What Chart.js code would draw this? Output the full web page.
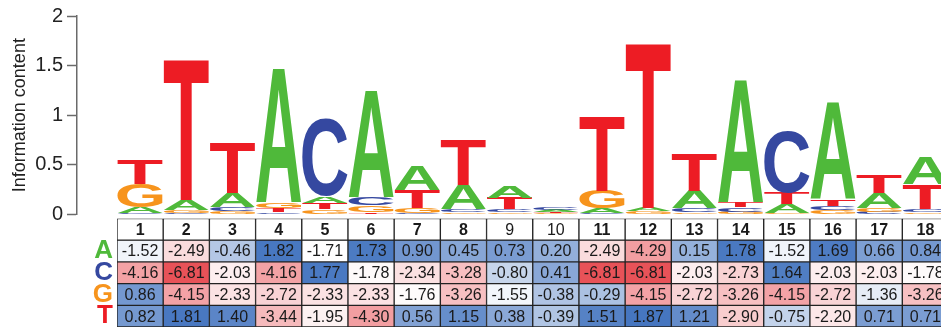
<!DOCTYPE html>
<html>
<head>
<meta charset="utf-8">
<script src="https://cdn.jsdelivr.net/npm/chart.js@4.4.0/dist/chart.umd.min.js"></script>
<style>
  body { margin: 0; background: #fff; }
  #wrap { position: relative; width: 941px; height: 327px; overflow: hidden; }
  #logo { position: absolute; left: 0; top: 0; }
  #table { position: absolute; left: 0; top: 195px; }
</style>
</head>
<body>
<div id="wrap">
  <canvas id="logo" width="960" height="232"></canvas>
  <canvas id="table" width="960" height="155"></canvas>
</div>
<script>
var positions = ['1', '2', '3', '4', '5', '6', '7', '8', '9', '10', '11', '12', '13', '14', '15', '16', '17', '18'];
var boldHeader = [true, true, true, true, true, true, true, true, false, false, true, true, true, true, true, true, true, true];
var bases = ['A', 'C', 'G', 'T'];

// letter heights in the logo (bits)
var heightA = [0.06, 0.10, 0.14, 1.36, 0.07, 1.08, 0.25, 0.25, 0.12, 0.02, 0.05, 0.035, 0.18, 1.24, 0.09, 0.98, 0.15, 0.27];
var heightC = [0.01, 0.01, 0.04, 0.02, 0.78, 0.075, 0.01, 0.03, 0.03, 0.025, 0.01, 0.005, 0.04, 0.045, 0.62, 0.045, 0.025, 0.03];
var heightG = [0.235, 0.03, 0.03, 0.05, 0.05, 0.07, 0.05, 0.02, 0.02, 0.012, 0.18, 0.025, 0.02, 0.025, 0.01, 0.04, 0.04, 0.02];
var heightT = [0.25, 1.415, 0.51, 0.04, 0.06, 0.02, 0.18, 0.455, 0.11, 0.015, 0.76, 1.66, 0.38, 0.05, 0.12, 0.065, 0.185, 0.25];

// scores shown in the table
var scoreA = [-1.52, -2.49, -0.46, 1.82, -1.71, 1.73, 0.90, 0.45, 0.73, 0.20, -2.49, -4.29, 0.15, 1.78, -1.52, 1.69, 0.66, 0.84];
var scoreC = [-4.16, -6.81, -2.03, -4.16, 1.77, -1.78, -2.34, -3.28, -0.80, 0.41, -6.81, -6.81, -2.03, -2.73, 1.64, -2.03, -2.03, -1.78];
var scoreG = [0.86, -4.15, -2.33, -2.72, -2.33, -2.33, -1.76, -3.26, -1.55, -0.38, -0.29, -4.15, -2.72, -3.26, -4.15, -2.72, -1.36, -3.26];
var scoreT = [0.82, 1.81, 1.40, -3.44, -1.95, -4.30, 0.56, 1.15, 0.38, -0.39, 1.51, 1.87, 1.21, -2.90, -0.75, -2.20, 0.71, 0.71];

var baseColors = { A: '#4fb93a', C: '#3548a0', G: '#f7941d', T: '#ed1c24' };
var fontFamily = '"Liberation Sans", Arial, sans-serif';

Chart.defaults.font.family = fontFamily;
Chart.defaults.color = '#222';

var letterHeights = { A: heightA, C: heightC, G: heightG, T: heightT };
var scoreRows = [scoreA, scoreC, scoreG, scoreT];

// stack letters per column, smallest at the bottom
var logoLayers = [[], [], [], []];
positions.forEach(function (p, i) {
  var col = bases.map(function (b) { return { letter: b, h: letterHeights[b][i] }; });
  col.sort(function (a, b) { return a.h - b.h; });
  col.forEach(function (c, k) {
    logoLayers[k].push({ x: i + 1, y: c.h, letter: c.letter });
  });
});

function drawGlyph(ctx, letter, x, y, w, h) {
  ctx.save();
  ctx.font = 'bold 200px ' + fontFamily;
  ctx.textAlign = 'left';
  ctx.textBaseline = 'alphabetic';
  var m = ctx.measureText(letter);
  var gw = m.actualBoundingBoxLeft + m.actualBoundingBoxRight;
  var gh = m.actualBoundingBoxAscent + m.actualBoundingBoxDescent;
  ctx.translate(x, y);
  ctx.scale(w / gw, h / gh);
  ctx.fillStyle = baseColors[letter];
  ctx.fillText(letter, m.actualBoundingBoxLeft, m.actualBoundingBoxAscent);
  ctx.restore();
}

var letterPlugin = {
  id: 'letters',
  afterDatasetsDraw: function (chart) {
    var ctx = chart.ctx;
    chart.data.datasets.forEach(function (ds, d) {
      chart.getDatasetMeta(d).data.forEach(function (bar, i) {
        var p = bar.getProps(['x', 'y', 'base', 'width'], true);
        var top = Math.min(p.y, p.base);
        var h = Math.abs(p.base - p.y);
        if (h < 0.3) return;
        drawGlyph(ctx, ds.data[i].letter, p.x - p.width / 2 + 0.5, top, p.width - 1, h);
      });
    });
  }
};

new Chart(document.getElementById('logo'), {
  type: 'bar',
  data: {
    datasets: logoLayers.map(function (layer) {
      return {
        data: layer,
        backgroundColor: 'rgba(0,0,0,0)',
        borderWidth: 0,
        barPercentage: 1,
        categoryPercentage: 1
      };
    })
  },
  options: {
    responsive: false,
    animation: false,
    devicePixelRatio: 1,
    events: [],
    layout: { padding: { top: 15.7, bottom: 17.7, left: 0, right: 11.5 } },
    plugins: { legend: { display: false }, tooltip: { enabled: false } },
    scales: {
      x: { type: 'linear', min: -0.366, max: 18.5, offset: false, stacked: true, display: false },
      y: {
        stacked: true,
        min: 0,
        max: 2,
        afterFit: function (s) { s.width = 77; },
        border: { color: '#6a6a6a', width: 1.5 },
        grid: { drawOnChartArea: false, tickLength: 10, color: '#6a6a6a', tickWidth: 1.5 },
        ticks: {
          stepSize: 0.5,
          padding: 4,
          font: { size: 20 },
          color: '#222',
          callback: function (v) { return String(v); }
        },
        title: {
          display: true,
          text: 'Information content',
          font: { size: 18 },
          color: '#222',
          padding: { top: 9, bottom: 0 }
        }
      }
    }
  },
  plugins: [letterPlugin]
});

// white near -1.7, blue for high scores, red for low ones
function scoreColor(v) {
  var mid = -1.7, lo = -6.81, hi = 1.87;
  var c, t;
  if (v >= mid) {
    t = Math.min(1, (v - mid) / (hi - mid));
    c = [70, 118, 192];
  } else {
    t = Math.min(1, (mid - v) / (mid - lo));
    c = [232, 82, 88];
  }
  t = Math.pow(t, 0.85);
  return 'rgb(' + c.map(function (k) { return Math.round(255 + (k - 255) * t); }).join(',') + ')';
}

var cellText = {
  id: 'cellText',
  afterDatasetsDraw: function (chart) {
    var ctx = chart.ctx;
    ctx.save();
    ctx.textAlign = 'center';
    ctx.textBaseline = 'middle';
    ctx.fillStyle = '#1a1a1a';
    chart.data.datasets.forEach(function (ds, d) {
      chart.getDatasetMeta(d).data.forEach(function (bar, i) {
        var p = bar.getProps(['x', 'y', 'base'], true);
        var cy = (p.y + p.base) / 2 + 1;
        var txt;
        if (d === 0) {
          ctx.font = (boldHeader[i] ? 'bold ' : '') + '16px ' + fontFamily;
          txt = positions[i];
        } else {
          ctx.font = '16px ' + fontFamily;
          txt = scoreRows[d - 1][i].toFixed(2);
        }
        ctx.fillText(txt, p.x, cy);
      });
    });
    ctx.restore();
  }
};

var tableSets = [{
  data: positions.map(function () { return [0, 1]; }),
  backgroundColor: '#fff'
}];
scoreRows.forEach(function (row, r) {
  tableSets.push({
    data: positions.map(function () { return [r + 1, r + 2]; }),
    backgroundColor: function (ctx) { return scoreColor(row[ctx.dataIndex]); }
  });
});
tableSets.forEach(function (ds) {
  ds.borderColor = '#222';
  ds.borderWidth = 1;
  ds.borderSkipped = false;
  ds.grouped = false;
  ds.barPercentage = 1;
  ds.categoryPercentage = 1;
});

new Chart(document.getElementById('table'), {
  type: 'bar',
  data: { labels: positions, datasets: tableSets },
  options: {
    responsive: false,
    animation: false,
    devicePixelRatio: 1,
    events: [],
    layout: { padding: { top: 23.5, bottom: 23, left: 0, right: 11.5 } },
    plugins: { legend: { display: false }, tooltip: { enabled: false } },
    scales: {
      x: { display: false },
      y: {
        min: 0,
        max: 5,
        reverse: true,
        stacked: false,
        afterFit: function (s) { s.width = 117; },
        afterBuildTicks: function (s) {
          s.ticks = [1.5, 2.5, 3.5, 4.5].map(function (v) { return { value: v }; });
        },
        border: { display: false },
        grid: { display: false, drawTicks: false },
        ticks: {
          padding: 4,
          font: { size: 26, weight: 'bold' },
          color: function (ctx) { return baseColors[bases[ctx.index]]; },
          callback: function (v, i) { return bases[i]; }
        }
      }
    }
  },
  plugins: [cellText]
});
</script>
</body>
</html>
